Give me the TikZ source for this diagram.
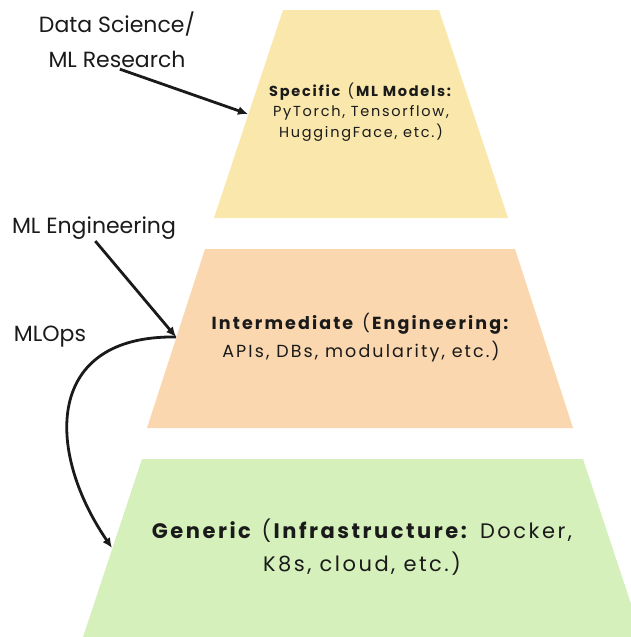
\documentclass[tikz,border=0pt]{standalone}
\usepackage{fontspec}
\setmainfont{Poppins}
\newfontfamily\tierfont[LetterSpace=12]{Poppins}
\usepackage{tikz}
\usetikzlibrary{arrows.meta,positioning}
\definecolor{tieryellow}{HTML}{F9E7AB}
\definecolor{tierorange}{HTML}{FAD7AF}
\definecolor{tiergreen}{HTML}{D5F0BB}
\definecolor{inkdark}{HTML}{1A1A1A}
\tikzset{
  rolelabel/.style={inkdark, align=center, inner sep=0pt, font=\fontsize{22}{35}\selectfont},
  tiertext/.style={inkdark, align=center, inner sep=0pt},
  rolearrow/.style={inkdark, -{Latex[length=10pt,width=9pt]}, line width=2.8pt}
}

\begin{document}
\begin{tikzpicture}[x=1pt,y=-1pt]
  \useasboundingbox (0,0) rectangle (630,637);
  % the three tiers
  \fill[tieryellow] (283,10)--(439,10)--(508,218)--(214,218)--cycle;
  \fill[tierorange] (205,249)--(515,249)--(573,428)--(147,428)--cycle;
  \fill[tiergreen] (142,459)--(583,459)--(642,637)--(83,637)--cycle;
  \coordinate (specedge) at (248,114);
  \coordinate (interedge) at (176,337);
  \coordinate (generedge) at (112,548);
  \node[tiertext, font={\tierfont\fontsize{14.5}{20.5}\selectfont}] (specific) at (361,112)
    {\textbf{Specific} (\textbf{ML Models:}\\PyTorch, Tensorflow,\\HuggingFace, etc.)};
  \node[tiertext, font={\tierfont\fontsize{17.5}{28}\selectfont}] (intermediate) at (361,338)
    {\textbf{Intermediate} (\textbf{Engineering:}\\APIs, DBs, modularity, etc.)};
  \node[tiertext, font={\tierfont\fontsize{21}{33}\selectfont}] (generic) at (362,547)
    {\textbf{Generic} (\textbf{Infrastructure:} Docker,\\K8s, cloud, etc.)};
  % roles
  \node[rolelabel] (dsres) at (117,40) {Data Science/\\ML Research};
  \node[rolelabel] (mleng) at (94,228) {ML Engineering};
  \node[rolelabel] (mlops) at (50,337) {MLOps};
  \draw[rolearrow, shorten <=3pt] (dsres.south) -- (specedge);
  \draw[rolearrow, shorten <=2pt] (mleng.south) -- (interedge);
  \draw[rolearrow] (interedge) .. controls (45,335) and (45,450) .. (generedge);
\end{tikzpicture}
\end{document}
